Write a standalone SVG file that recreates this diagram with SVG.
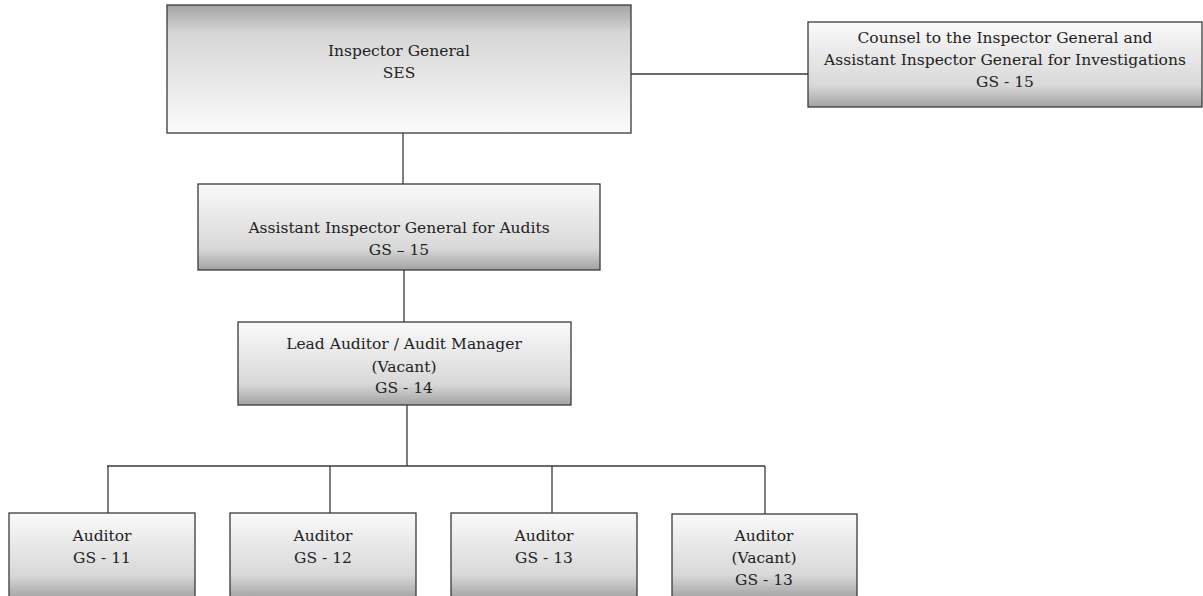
<svg xmlns="http://www.w3.org/2000/svg" width="1203" height="596" viewBox="0 0 1203 596">
<defs>
<linearGradient id="gTop" x1="0" y1="0" x2="0" y2="1">
<stop offset="0" stop-color="#a4a4a4"/>
<stop offset="0.22" stop-color="#d6d6d6"/>
<stop offset="1" stop-color="#fbfbfb"/>
</linearGradient>
<linearGradient id="gBot" x1="0" y1="0" x2="0" y2="1">
<stop offset="0" stop-color="#fafafa"/>
<stop offset="0.75" stop-color="#d8d8d8"/>
<stop offset="1" stop-color="#a2a2a2"/>
</linearGradient>
<linearGradient id="gAud" x1="0" y1="513" x2="0" y2="620" gradientUnits="userSpaceOnUse">
<stop offset="0" stop-color="#fafafa"/>
<stop offset="0.58" stop-color="#d8d8d8"/>
<stop offset="0.8" stop-color="#a2a2a2"/>
</linearGradient>
</defs>
<style>
.box{stroke:#3a3a3a;stroke-width:1.3}
.top{fill:url(#gTop)}
.bot{fill:url(#gBot)}
.aud{fill:url(#gAud)}
text{font-family:"DejaVu Serif","Liberation Serif",serif;font-size:15.5px;fill:#222;text-anchor:middle}
.conn{stroke:#3a3a3a;stroke-width:1.3;fill:none}
</style>
<g id="connectors">
<path class="conn" d="M631 74H808"/>
<path class="conn" d="M403 133V184"/>
<path class="conn" d="M404 270V322"/>
<path class="conn" d="M407 405V466"/>
<path class="conn" d="M107 466H765"/>
<path class="conn" d="M108 466V513"/>
<path class="conn" d="M330 466V513"/>
<path class="conn" d="M552 466V513"/>
<path class="conn" d="M765 466V514"/>
</g>
<g id="ig">
<rect class="box top" x="167" y="5" width="464" height="128"/>
<text x="399" y="56">Inspector General</text>
<text x="399" y="78">SES</text>
</g>
<g id="counsel">
<rect class="box bot" x="808" y="22" width="394" height="85"/>
<text x="1005" y="43">Counsel to the Inspector General and</text>
<text x="1005" y="65">Assistant Inspector General for Investigations</text>
<text x="1005" y="87">GS - 15</text>
</g>
<g id="aig">
<rect class="box bot" x="198" y="184" width="402" height="86"/>
<text x="399" y="233">Assistant Inspector General for Audits</text>
<text x="399" y="255">GS – 15</text>
</g>
<g id="lead">
<rect class="box bot" x="238" y="322" width="333" height="83"/>
<text x="404" y="349">Lead Auditor / Audit Manager</text>
<text x="404" y="372">(Vacant)</text>
<text x="404" y="393">GS - 14</text>
</g>
<g id="aud1">
<rect class="box aud" x="9" y="513" width="186" height="100"/>
<text x="102" y="541">Auditor</text>
<text x="102" y="563">GS - 11</text>
</g>
<g id="aud2">
<rect class="box aud" x="230" y="513" width="186" height="100"/>
<text x="323" y="541">Auditor</text>
<text x="323" y="563">GS - 12</text>
</g>
<g id="aud3">
<rect class="box aud" x="451" y="513" width="186" height="100"/>
<text x="544" y="541">Auditor</text>
<text x="544" y="563">GS - 13</text>
</g>
<g id="aud4">
<rect class="box aud" x="672" y="514" width="185" height="100"/>
<text x="764" y="541">Auditor</text>
<text x="764" y="563">(Vacant)</text>
<text x="764" y="585">GS - 13</text>
</g>
</svg>
